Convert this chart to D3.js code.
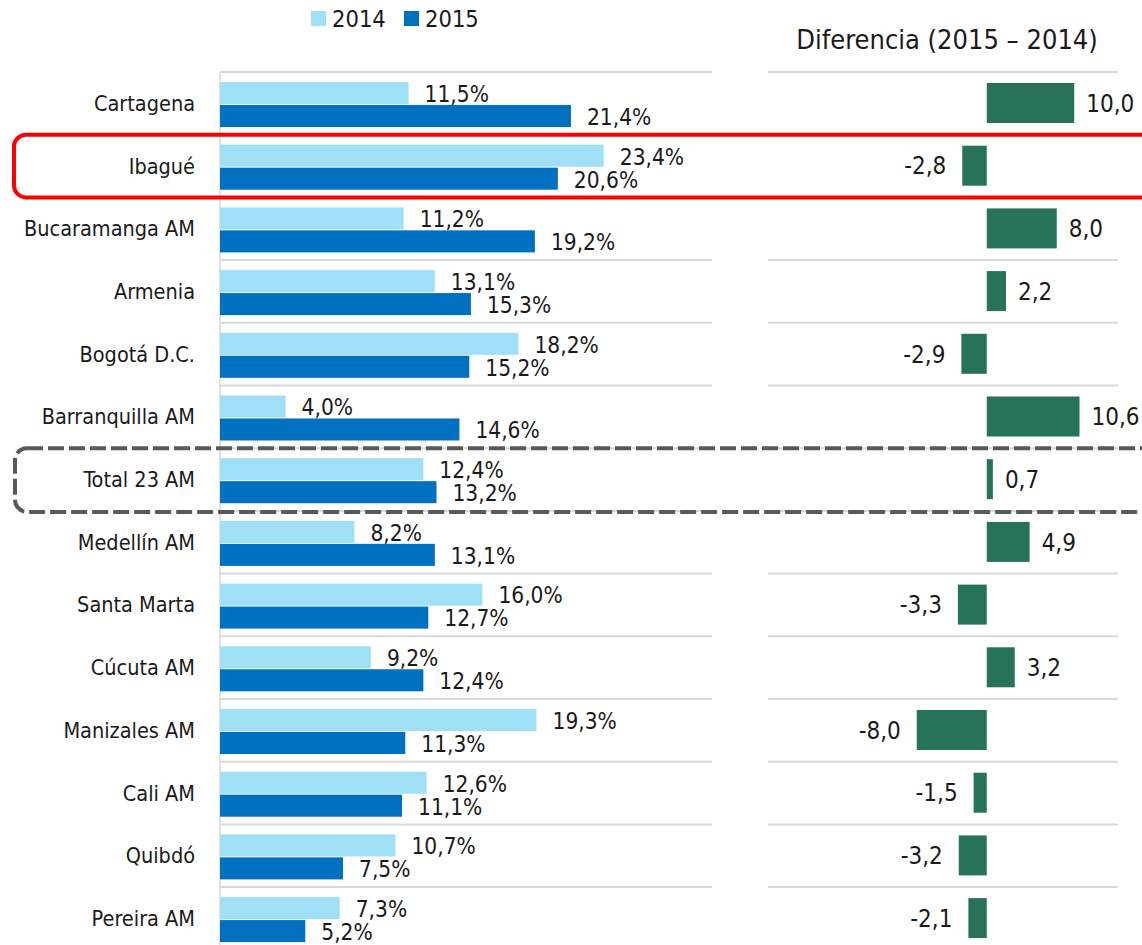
<!DOCTYPE html>
<html>
<head>
<meta charset="utf-8">
<script src="https://cdn.jsdelivr.net/npm/d3@7"></script>
<style>
  body { margin: 0; background: #fff; }
  text { font-family: "Liberation Sans Narrow", "DejaVu Sans Condensed", "Roboto", sans-serif; fill: #1a1a1a; }
</style>
</head>
<body>
<div id="chart"></div>
<script>
var w = 1142;
var h = 945;

var cities = ["Cartagena", "Ibagué", "Bucaramanga AM", "Armenia", "Bogotá D.C.", "Barranquilla AM",
  "Total 23 AM", "Medellín AM", "Santa Marta", "Cúcuta AM", "Manizales AM", "Cali AM", "Quibdó", "Pereira AM"];
var v2014 = [11.5, 23.4, 11.2, 13.1, 18.2, 4.0, 12.4, 8.2, 16.0, 9.2, 19.3, 12.6, 10.7, 7.3];
var v2015 = [21.4, 20.6, 19.2, 15.3, 15.2, 14.6, 13.2, 13.1, 12.7, 12.4, 11.3, 11.1, 7.5, 5.2];
var diff = [10.0, -2.8, 8.0, 2.2, -2.9, 10.6, 0.7, 4.9, -3.3, 3.2, -8.0, -1.5, -3.2, -2.1];
var years = ["2014", "2015"];
var colors = { "2014": "#a0e0f7", "2015": "#0070c0" };
var green = "#26735a";

// comma decimals, plain hyphen for negatives
var fmt = function(v) { return d3.format(".1f")(v).replace(".", ",").replace("\u2212", "-"); };

var svg = d3.select("#chart").append("svg")
  .attr("width", w)
  .attr("height", h);

var y = d3.scaleBand().domain(cities).range([72, 72 + 14 * 62.7]);
var yIn = d3.scaleBand().domain(years).range([10, 55]).paddingInner(0.04);
var x = d3.scaleLinear().domain([0, 30]).range([220, 712]);
var xd = d3.scaleLinear().domain([-25, 15]).range([768, 1118]);

// gridlines
var grid = svg.append("g").attr("stroke", "#d9d9d9").attr("stroke-width", 2);
grid.selectAll("line.l")
  .data(cities)
  .enter()
  .append("line")
  .attr("x1", x(0)).attr("x2", x.range()[1])
  .attr("y1", function(d) { return y(d); })
  .attr("y2", function(d) { return y(d); });
grid.selectAll("line.r")
  .data(cities)
  .enter()
  .append("line")
  .attr("x1", xd.range()[0]).attr("x2", xd.range()[1])
  .attr("y1", function(d) { return y(d); })
  .attr("y2", function(d) { return y(d); });
svg.append("line")
  .attr("x1", x(0)).attr("x2", x(0))
  .attr("y1", y.range()[0]).attr("y2", h)
  .attr("stroke", "#d9d9d9").attr("stroke-width", 1.5);

// category labels
svg.selectAll("text.cat")
  .data(cities)
  .enter()
  .append("text")
  .attr("class", "cat")
  .attr("x", 195)
  .attr("y", function(d) { return y(d) + y.bandwidth() / 2; })
  .attr("dy", "0.35em")
  .attr("text-anchor", "end")
  .style("font-size", "21.5px")
  .text(function(d) { return d; });

// paired bars
years.forEach(function(yr) {
  var vals = yr === "2014" ? v2014 : v2015;
  var g = svg.append("g");
  g.selectAll("rect")
    .data(vals)
    .enter()
    .append("rect")
    .attr("x", x(0))
    .attr("y", function(d, i) { return y(cities[i]) + yIn(yr); })
    .attr("width", function(d) { return x(d) - x(0); })
    .attr("height", yIn.bandwidth())
    .attr("fill", colors[yr]);
  g.selectAll("text")
    .data(vals)
    .enter()
    .append("text")
    .attr("x", function(d) { return x(d) + 16; })
    .attr("y", function(d, i) { return y(cities[i]) + yIn(yr) + yIn.bandwidth() / 2 + 1; })
    .attr("dy", "0.35em")
    .style("font-size", "22.5px")
    .text(function(d) { return fmt(d) + "%"; });
});

// difference bars
svg.selectAll("rect.diff")
  .data(diff)
  .enter()
  .append("rect")
  .attr("class", "diff")
  .attr("x", function(d) { return xd(Math.min(0, d)); })
  .attr("y", function(d, i) { return y(cities[i]) + 11; })
  .attr("width", function(d) { return Math.abs(xd(d) - xd(0)); })
  .attr("height", 40)
  .attr("fill", green);

svg.selectAll("text.diff")
  .data(diff)
  .enter()
  .append("text")
  .attr("class", "diff")
  .attr("x", function(d) { return d >= 0 ? xd(d) + 12 : xd(d) - 16; })
  .attr("y", function(d, i) { return y(cities[i]) + y.bandwidth() / 2; })
  .attr("dy", "0.35em")
  .attr("text-anchor", function(d) { return d >= 0 ? "start" : "end"; })
  .style("font-size", "24px")
  .text(function(d) { return fmt(d); });

// legend
var leg = svg.append("g");
var legX = [311, 404];
years.forEach(function(yr, i) {
  leg.append("rect")
    .attr("x", legX[i]).attr("y", 11)
    .attr("width", 15).attr("height", 15)
    .attr("fill", colors[yr]);
  leg.append("text")
    .attr("x", legX[i] + 21).attr("y", 19)
    .attr("dy", "0.35em")
    .style("font-size", "23.5px")
    .text(yr);
});

// title of right panel
svg.append("text")
  .attr("x", 947).attr("y", 40)
  .attr("dy", "0.35em")
  .attr("text-anchor", "middle")
  .style("font-size", "27px")
  .text("Diferencia (2015 – 2014)");

// highlight boxes
var ib = "Ibagué";
svg.append("rect")
  .attr("x", 14).attr("y", y(ib))
  .attr("width", 1160).attr("height", y.bandwidth())
  .attr("rx", 12)
  .attr("fill", "none")
  .attr("stroke", "#ff0000")
  .attr("stroke-width", 4);

var tot = "Total 23 AM";
svg.append("rect")
  .attr("x", 15).attr("y", y(tot))
  .attr("width", 1160).attr("height", y.bandwidth() + 1)
  .attr("rx", 12)
  .attr("fill", "none")
  .attr("stroke", "#595959")
  .attr("stroke-width", 4)
  .attr("stroke-dasharray", "16,5");
</script>
</body>
</html>
